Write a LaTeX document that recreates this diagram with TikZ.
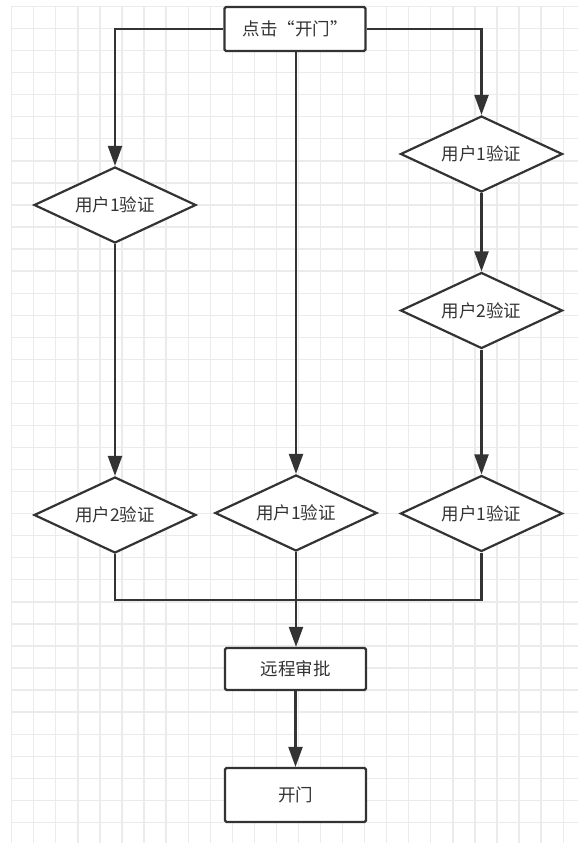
\documentclass[tikz,border=0pt]{standalone}
\usepackage{fontspec}
\setmainfont{Noto Sans CJK SC}
\usetikzlibrary{shapes.geometric,arrows.meta}
\definecolor{ln}{HTML}{333333}
\definecolor{gr}{HTML}{EBEBEB}
\newcommand{\lblfont}{\fontsize{17.5}{21}\selectfont}
\begin{document}
\begin{tikzpicture}[x=1pt,y=-1pt,
  box/.style={draw=ln, line width=2.2pt, rounded corners=1.5pt, fill=white, minimum width=141pt, minimum height=44pt, inner sep=0pt, font=\lblfont, text=ln},
  dia/.style={diamond, draw=ln, line width=2.2pt, fill=white, minimum width=162pt, minimum height=76pt, inner sep=0pt, aspect=2.13, font=\lblfont, text=ln},
  conn/.style={draw=ln, line width=2.2pt},
  arr/.style={conn, -{Triangle[length=20pt,width=14pt]}},
  gridline/.style={draw=gr, line width=1.3pt}]
\useasboundingbox (0,0) rectangle (578,843);
\fill[white] (0,0) rectangle (578,843);
% grid
\foreach \i in {0,...,25} \draw[gridline] ({11.7+22.06*\i},6.5) -- ({11.7+22.06*\i},843);
\foreach \j in {0,...,37} \draw[gridline] (11.7,{6.5+22.05*\j}) -- (578,{6.5+22.05*\j});
% nodes
\node[box] (top) at (295,29) {点击“开门”};
\node[dia] (L1) at (115,205) {用户1验证};
\node[dia] (L2) at (115,515) {用户2验证};
\node[dia] (M) at (296,513) {用户1验证};
\node[dia] (R1) at (481.5,154) {用户1验证};
\node[dia] (R2) at (481.5,310.5) {用户2验证};
\node[dia] (R3) at (481.5,513.5) {用户1验证};
\node[box, minimum height=42pt] (remote) at (295.5,669) {远程审批};
\node[box, minimum height=54pt] (door) at (295.5,795) {开门};
\coordinate (merge) at (296,600);
% connectors
\draw[arr] (top.west) -| (L1.north);
\draw[arr] (top.east) -| (R1.north);
\draw[arr] (top.south -| M.north) -- (M.north);
\draw[arr] (L1.south) -- (L2.north);
\draw[arr] (R1.south) -- (R2.north);
\draw[arr] (R2.south) -- (R3.north);
\draw[conn] (L2.south) |- (merge) -| (R3.south);
\draw[arr] (M.south) -- (remote.north -| M.south);
\draw[arr] (remote.south) -- (door.north);
\end{tikzpicture}
\end{document}
